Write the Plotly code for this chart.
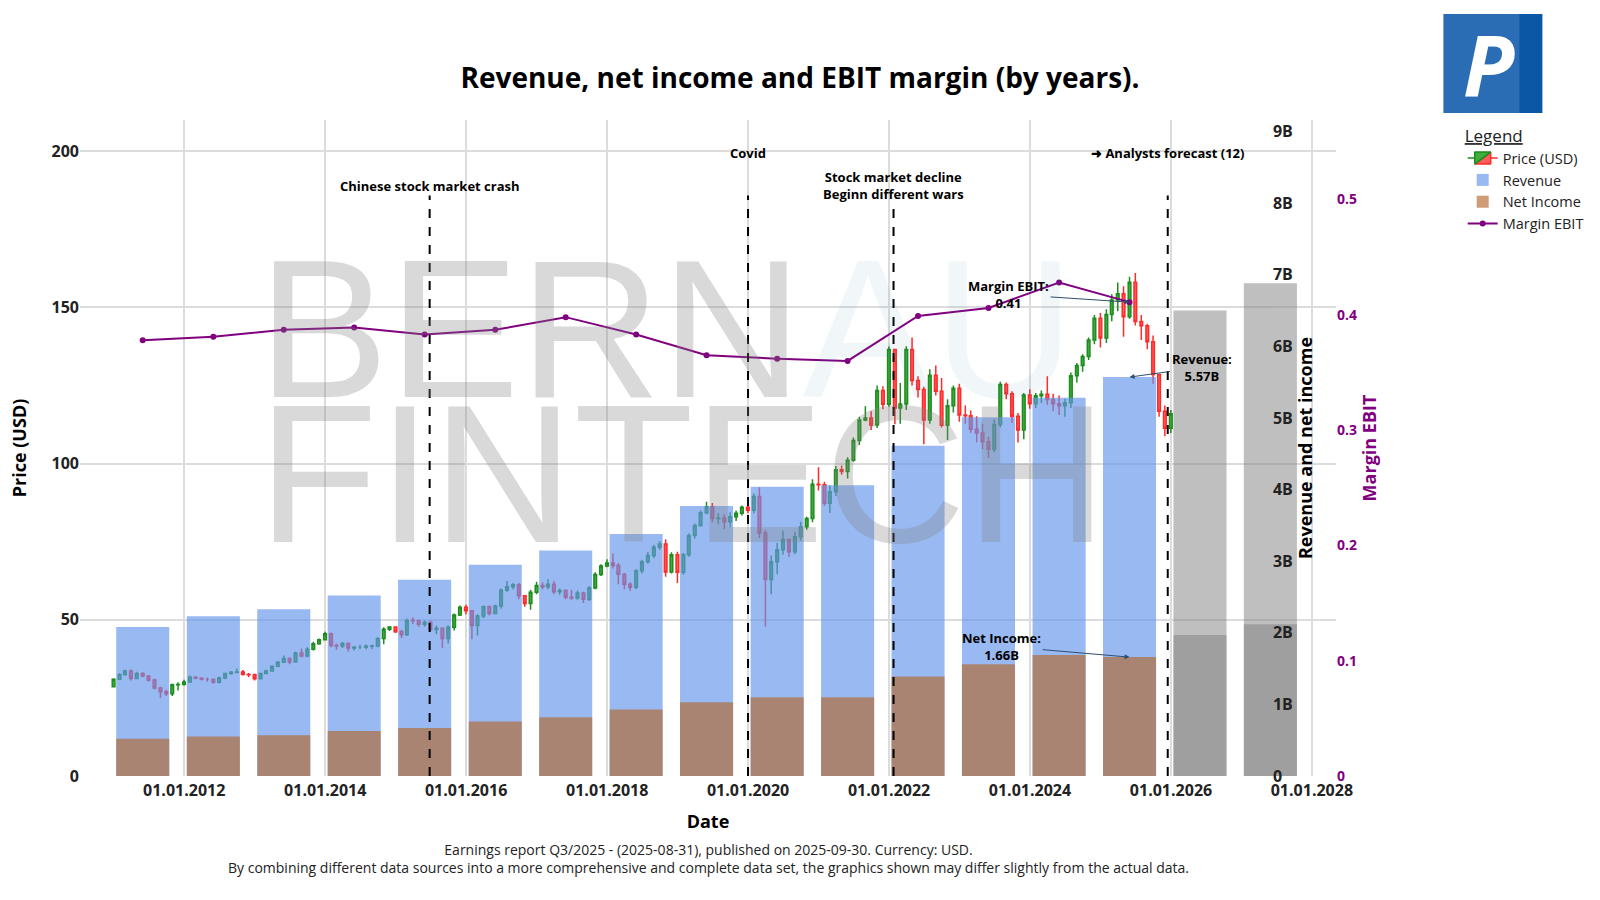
import pandas as pd
import plotly.graph_objects as go

# ---------------- data ----------------
fy_dates = ["2011-05-31", "2012-05-31", "2013-05-31", "2014-05-31", "2015-05-31",
            "2016-05-31", "2017-05-31", "2018-05-31", "2019-05-31", "2020-05-31",
            "2021-05-31", "2022-05-31", "2023-05-31", "2024-05-31", "2025-05-31"]
revenue = [2.08e9, 2.23e9, 2.33e9, 2.52e9, 2.74e9, 2.95e9, 3.15e9, 3.38e9, 3.77e9,
           4.04e9, 4.06e9, 4.61e9, 5.01e9, 5.28e9, 5.57e9]
net_income = [0.52e9, 0.55e9, 0.57e9, 0.63e9, 0.67e9, 0.76e9, 0.82e9, 0.93e9, 1.03e9,
              1.10e9, 1.10e9, 1.39e9, 1.56e9, 1.69e9, 1.66e9]
margin_ebit = [0.378, 0.381, 0.387, 0.389, 0.383, 0.387, 0.398, 0.383, 0.365,
               0.362, 0.360, 0.399, 0.406, 0.428, 0.411]

fc_dates = ["2026-05-31", "2027-05-31"]
fc_revenue = [6.50e9, 6.88e9]
fc_net_income = [1.97e9, 2.12e9]

# monthly candles, Dec 2010 .. Dec 2025 (month end)
first_open = 28.6
close = [31.0,
         32.4, 33.6, 31.2, 32.8, 32.0, 30.7, 28.2, 27.0, 26.3, 29.2, 29.3, 30.1,
         31.6, 31.3, 31.0, 31.0, 30.0, 31.4, 32.8, 33.2, 33.3, 32.5, 32.4, 31.1,
         32.8, 33.6, 35.1, 36.4, 37.6, 36.5, 39.4, 38.4, 40.6, 42.3, 43.6, 45.5,
         41.8, 41.6, 42.4, 41.0, 41.2, 41.2, 41.5, 41.6, 44.0, 47.0, 47.7, 46.2,
         45.2, 49.8, 49.7, 48.6, 49.2, 46.9, 47.3, 44.0, 47.6, 51.5, 54.0, 52.9,
         48.2, 51.2, 54.2, 52.0, 54.4, 59.5, 60.6, 61.2, 57.7, 55.2, 58.8, 61.0,
         60.6, 61.4, 59.0, 59.4, 57.2, 57.0, 58.6, 56.6, 60.2, 64.5, 67.2, 68.2,
         67.4, 64.6, 61.4, 60.4, 65.7, 68.6, 70.6, 73.2, 74.3, 65.3, 70.8, 65.2,
         70.8, 77.0, 80.2, 84.3, 86.2, 82.4, 82.6, 81.4, 83.0, 84.1, 86.0, 85.1,
         89.5, 77.8, 62.9, 68.6, 72.4, 75.7, 71.8, 76.6, 79.8, 82.4, 93.4, 93.2,
         87.3, 91.0, 98.0, 97.5, 101.1, 107.4, 114.0, 114.6, 112.4, 123.4, 119.0, 136.5,
         117.8, 119.1, 136.5, 126.6, 123.7, 114.0, 128.3, 123.2, 112.3, 118.5, 124.1, 115.6,
         115.3, 111.0, 109.8, 107.0, 104.6, 112.5, 125.3, 122.4, 115.2, 110.8, 122.0, 119.2,
         121.7, 122.2, 120.5, 119.2, 118.5, 119.5, 128.1, 131.4, 134.3, 139.6, 146.5, 140.2,
         147.7, 152.4, 154.4, 147.0, 158.1, 145.5, 144.1, 139.0, 128.5, 116.8, 111.3, 116.0]
high = [31.3,
        33.0, 34.0, 34.1, 33.4, 33.2, 32.3, 31.2, 28.6, 27.6, 29.6, 30.0, 30.8,
        32.2, 31.9, 31.6, 31.5, 31.2, 31.8, 33.0, 33.6, 34.4, 33.9, 33.0, 32.8,
        33.0, 34.0, 35.3, 36.8, 38.6, 38.0, 39.8, 40.8, 41.2, 43.0, 44.0, 46.2,
        45.9, 42.4, 43.0, 42.8, 41.6, 42.0, 42.2, 42.0, 44.4, 47.6, 48.0, 47.9,
        46.8, 50.4, 50.8, 50.2, 49.8, 49.8, 48.2, 47.6, 48.2, 52.0, 54.6, 54.8,
        53.0, 51.8, 54.6, 54.6, 54.8, 60.0, 62.4, 61.8, 61.8, 57.8, 59.6, 62.2,
        62.0, 63.0, 62.4, 60.0, 59.8, 59.6, 59.4, 59.0, 60.8, 65.2, 67.8, 69.4,
        71.2, 68.2, 65.0, 62.0, 66.2, 69.2, 71.8, 74.0, 75.2, 75.8, 71.6, 71.8,
        71.4, 77.6, 80.8, 85.0, 87.8, 87.4, 84.2, 83.8, 84.4, 85.0, 86.6, 86.6,
        90.4, 92.4, 78.8, 70.6, 74.6, 78.6, 75.9, 78.2, 81.4, 83.0, 95.0, 98.8,
        94.2, 93.0, 99.2, 99.4, 102.0, 108.4, 115.0, 118.4, 116.8, 125.0, 124.8, 137.5,
        136.8, 125.8, 137.6, 140.4, 128.0, 124.6, 130.2, 131.4, 127.4, 120.6, 125.0, 125.6,
        118.6, 117.0, 115.2, 112.8, 108.6, 114.2, 126.2, 126.0, 123.2, 116.2, 122.6, 123.8,
        122.6, 123.4, 128.0, 122.4, 121.8, 120.8, 129.2, 132.2, 135.0, 140.4, 147.6, 148.2,
        149.4, 154.2, 158.0, 156.8, 159.8, 161.0, 147.6, 144.8, 141.0, 128.4, 118.6, 117.2]
low = [28.3,
       30.8, 32.2, 30.6, 31.0, 31.6, 30.2, 27.8, 25.0, 25.6, 25.6, 27.4, 29.0,
       30.0, 31.0, 30.6, 30.2, 29.5, 29.6, 31.0, 32.4, 32.8, 32.2, 31.6, 30.6,
       31.0, 32.6, 33.4, 34.8, 36.2, 35.8, 36.4, 38.0, 38.0, 40.2, 42.0, 43.4,
       41.2, 40.4, 41.0, 39.8, 40.2, 40.6, 40.6, 40.6, 41.2, 42.2, 46.4, 45.8,
       44.2, 44.8, 48.6, 47.8, 47.8, 46.2, 45.4, 41.0, 42.4, 46.6, 51.2, 51.8,
       43.8, 45.0, 50.6, 51.4, 51.8, 53.6, 59.0, 59.8, 56.6, 54.2, 53.2, 58.2,
       59.8, 59.8, 58.2, 58.0, 56.6, 56.4, 56.4, 55.4, 56.0, 59.8, 64.0, 66.8,
       66.4, 61.4, 59.8, 59.2, 59.8, 64.8, 68.0, 69.8, 72.4, 63.8, 64.8, 61.8,
       64.4, 70.2, 76.0, 79.8, 83.8, 81.2, 80.6, 79.0, 79.6, 81.6, 83.4, 84.2,
       84.0, 76.2, 47.8, 58.2, 64.6, 70.8, 70.2, 71.0, 75.4, 78.8, 81.2, 91.4,
       86.4, 84.2, 89.6, 96.4, 95.2, 100.6, 106.0, 113.6, 110.8, 111.4, 117.4, 118.2,
       112.6, 112.8, 117.2, 125.0, 121.2, 106.2, 112.8, 121.8, 111.6, 107.6, 116.4, 113.4,
       112.8, 109.8, 106.8, 104.6, 101.8, 103.6, 111.6, 120.6, 113.0, 106.8, 107.8, 117.6,
       117.8, 119.4, 118.8, 116.8, 115.6, 115.0, 117.8, 126.0, 129.4, 133.2, 138.2, 137.2,
       138.6, 145.6, 148.8, 140.6, 146.4, 144.2, 139.6, 136.6, 125.6, 115.0, 108.8, 109.8]

candle_dates = pd.date_range("2010-12-31", periods=len(close), freq="ME")
open_ = [first_open] + close[:-1]

event_dates = ["2015-06-26", "2020-01-01", "2022-01-24", "2025-12-15"]
event_labels = ["Chinese stock market crash", "Covid",
                "Stock market decline<br>Beginn different wars",
                "\u279c Analysts forecast (12)"]
event_label_y = [0.900, 0.950, 0.900, 0.950]
event_line_top = [0.885, 0.885, 0.872, 0.885]

rev_ticks = [0, 1e9, 2e9, 3e9, 4e9, 5e9, 6e9, 7e9, 8e9, 9e9]
rev_ticktext = ["0", "1B", "2B", "3B", "4B", "5B", "6B", "7B", "8B", "9B"]

FONT = "Open Sans, sans-serif"
BAR_W = 275 * 24 * 3600 * 1000

fig = go.Figure()

fig.add_trace(go.Candlestick(
    x=candle_dates, open=open_, high=high, low=low, close=close,
    name="Price (USD)", yaxis="y",
    increasing=dict(line=dict(color="#1e8c1e", width=1.5), fillcolor="#3fae3f"),
    decreasing=dict(line=dict(color="#ff2a2a", width=1.5), fillcolor="#ff5c5c"),
    whiskerwidth=0,
))

fig.add_trace(go.Bar(x=fy_dates, y=revenue, name="Revenue", yaxis="y2",
                     width=BAR_W, marker=dict(color="cornflowerblue", line_width=0),
                     opacity=0.65))
fig.add_trace(go.Bar(x=fy_dates, y=net_income, name="Net Income", yaxis="y2",
                     width=BAR_W, marker=dict(color="rgb(180,104,48)", line_width=0),
                     opacity=0.65))
fig.add_trace(go.Bar(x=fc_dates, y=fc_revenue, name="Revenue forecast", yaxis="y2",
                     width=BAR_W, marker=dict(color="grey", line_width=0),
                     opacity=0.5, showlegend=False))
fig.add_trace(go.Bar(x=fc_dates, y=fc_net_income, name="Net Income forecast", yaxis="y2",
                     width=BAR_W, marker=dict(color="grey", line_width=0),
                     opacity=0.5, showlegend=False))
fig.add_trace(go.Scatter(x=fy_dates, y=margin_ebit, name="Margin EBIT", yaxis="y3",
                         mode="lines+markers", line=dict(color="purple", width=2),
                         marker=dict(color="purple", size=6)))

shapes = []
for d, top in zip(event_dates, event_line_top):
    shapes.append(dict(type="line", xref="x", yref="paper", x0=d, x1=d, y0=0, y1=top,
                       line=dict(color="black", width=2, dash="dash")))
# logo
shapes.append(dict(type="rect", xref="paper", yref="paper", x0=1.0855, x1=1.1642,
                   y0=1.0106, y1=1.1614, fillcolor="#2a6db5", line_width=0, layer="above"))
shapes.append(dict(type="rect", xref="paper", yref="paper", x0=1.146, x1=1.1642,
                   y0=1.0106, y1=1.1614, fillcolor="#0b57a6", line_width=0, layer="above"))

annotations = []
for d, t, yy in zip(event_dates, event_labels, event_label_y):
    annotations.append(dict(x=d, y=yy, xref="x", yref="paper", text=t, showarrow=False,
                            font=dict(family=FONT, size=13, color="black", weight="bold"),
                            xanchor="center", yanchor="middle"))

# watermark
annotations.append(dict(x=0.14, y=0.68, xref="paper", yref="paper", xanchor="left",
                        yanchor="middle", showarrow=False,
                        text="BERN<span style='color:rgba(70,150,170,0.25)'>AU</span>",
                        font=dict(family="Liberation Sans, sans-serif", size=196,
                                  color="rgba(128,128,128,0.3)")))
annotations.append(dict(x=0.14, y=0.46, xref="paper", yref="paper", xanchor="left",
                        yanchor="middle", showarrow=False, text="FINTECH",
                        font=dict(family="Liberation Sans, sans-serif", size=196,
                                  color="rgba(128,128,128,0.3)")))
# logo letter
annotations.append(dict(x=1.122, y=1.086, xref="paper", yref="paper", showarrow=False,
                        text="<b><i>P</i></b>", xanchor="center", yanchor="middle",
                        font=dict(family=FONT, size=84, color="white")))

# value callouts
ann_font = dict(family=FONT, size=13, color="black", weight="bold")
annotations.append(dict(x=fy_dates[-1], y=margin_ebit[-1], xref="x", yref="y3",
                        text="Margin EBIT:<br>0.41", showarrow=True, ax=-121, ay=-8,
                        arrowhead=2, arrowsize=1, arrowwidth=1, arrowcolor="#2f4f6f",
                        font=ann_font))
annotations.append(dict(x=fy_dates[-1], y=revenue[-1], xref="x", yref="y2",
                        text="Revenue:<br>5.57B", showarrow=True, ax=72, ay=-10,
                        arrowhead=2, arrowsize=1, arrowwidth=1, arrowcolor="#2f4f6f",
                        font=ann_font))
annotations.append(dict(x=fy_dates[-1], y=net_income[-1], xref="x", yref="y2",
                        text="Net Income:<br>1.66B", showarrow=True, ax=-128, ay=-11,
                        arrowhead=2, arrowsize=1, arrowwidth=1, arrowcolor="#2f4f6f",
                        font=ann_font))
# footer
annotations.append(dict(x=0.5, y=-0.126, xref="paper", yref="paper", showarrow=False,
                        xanchor="center", yanchor="middle",
                        text="Earnings report Q3/2025 - (2025-08-31), published on 2025-09-30. Currency: USD.<br>"
                             "By combining different data sources into a more comprehensive and complete data set, "
                             "the graphics shown may differ slightly from the actual data.",
                        font=dict(family=FONT, size=14, color="#222")))

tick_font = dict(family=FONT, size=16, color="#222", weight="bold")
title_font = dict(family=FONT, size=18, color="black", weight="bold")

fig.update_layout(
    width=1600, height=900,
    margin=dict(l=80, r=263, t=120, b=124),
    paper_bgcolor="white", plot_bgcolor="white",
    barmode="overlay",
    title=dict(text="<b>Revenue, net income and EBIT margin (by years).</b>",
               x=0.5, xanchor="center", y=0.913, yanchor="middle",
               font=dict(family=FONT, size=28, color="black")),
    xaxis=dict(type="date", range=["2010-07-10", "2028-05-05"], tickformat="%d.%m.%Y",
               dtick="M24", tick0="2012-01-01", showgrid=True, gridcolor="#dcdcdc",
               gridwidth=2, zeroline=False, tickfont=tick_font, ticklabelstandoff=3,
               rangeslider=dict(visible=False),
               title=dict(text="Date", font=title_font, standoff=15)),
    yaxis=dict(range=[0, 210], tickvals=[0, 50, 100, 150, 200], showgrid=True,
               gridcolor="#dcdcdc", gridwidth=2, zeroline=False, tickfont=tick_font,
               title=dict(text="Price (USD)", font=title_font, standoff=20)),
    yaxis2=dict(overlaying="y", side="right", anchor="free", position=0.949,
                range=[0, 9.16e9], tickvals=rev_ticks, ticktext=rev_ticktext,
                showgrid=False, zeroline=False, tickfont=tick_font,
                title=dict(text="Revenue and net income", font=title_font, standoff=3)),
    yaxis3=dict(overlaying="y", side="right", anchor="x", range=[0, 0.569],
                tickvals=[0, 0.1, 0.2, 0.3, 0.4, 0.5],
                ticktext=["0", "0.1", "0.2", "0.3", "0.4", "0.5"],
                showgrid=False, zeroline=False,
                tickfont=dict(family=FONT, size=14, color="purple", weight="bold"),
                title=dict(text="Margin EBIT", standoff=3,
                           font=dict(family=FONT, size=18, color="purple", weight="bold"))),
    legend=dict(x=1.1, y=1.0, xanchor="left", yanchor="top",
                title=dict(text="<u>Legend</u>", font=dict(family=FONT, size=17, color="#222")),
                font=dict(family=FONT, size=14.5, color="#222"), bgcolor="rgba(0,0,0,0)"),
    shapes=shapes,
    annotations=annotations,
)

fig.write_html("out.html")
